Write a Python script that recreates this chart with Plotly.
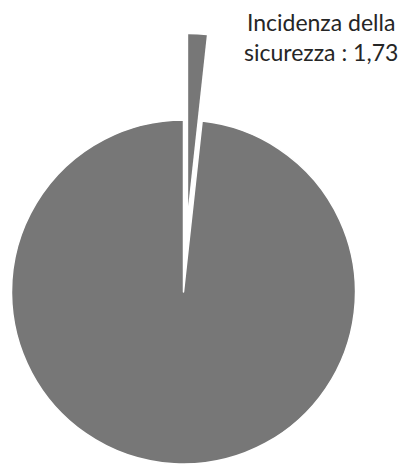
import math
import plotly.graph_objects as go

labels = ["Incidenza della sicurezza", "Altri costi"]
values = [1.73, 98.27]
slice_color = "#777777"
pull_fraction = 0.5

W, H = 406, 464
cx, cy, r = 183.5, 292, 172  # pixel center / radius of main pie

def domain_for(cx_px, cy_px, r_px):
    return dict(
        x=[(cx_px - r_px) / W, (cx_px + r_px) / W],
        y=[max(0, (H - cy_px - r_px) / H), min(1, (H - cy_px + r_px) / H)],
    )

fig = go.Figure()

# main pie with white separators; exploded slice left empty
fig.add_trace(go.Pie(
    labels=labels, values=values, sort=False, direction="clockwise", rotation=0,
    marker=dict(colors=["rgba(0,0,0,0)", slice_color], line=dict(color="white", width=1.5)),
    textinfo="none", hoverinfo="label+value", showlegend=False,
    domain=domain_for(cx, cy, r),
))

# exploded slice: shift along its bisector
mid = values[0] / sum(values) * math.pi  # half the slice angle, radians from 12 o'clock
dx = pull_fraction * r * math.sin(mid)
dy = -pull_fraction * r * math.cos(mid)
fig.add_trace(go.Pie(
    labels=labels, values=values, sort=False, direction="clockwise", rotation=0,
    marker=dict(colors=[slice_color, "rgba(0,0,0,0)"], line=dict(color="rgba(0,0,0,0)", width=0)),
    textinfo="none", hoverinfo="label+value", showlegend=False,
    domain=domain_for(cx + dx, cy + dy, r),
))

label_text = "Incidenza della<br>sicurezza : " + f"{values[0]:.2f}".replace(".", ",")
fig.add_annotation(
    text=label_text, x=321 / W, y=1 - 37 / H, xref="paper", yref="paper",
    xanchor="center", yanchor="middle", showarrow=False, align="center",
    font=dict(family="Lato, Carlito, sans-serif", size=23, color="#262626"),
)

fig.update_layout(
    width=W, height=H, margin=dict(l=0, r=0, t=0, b=0),
    paper_bgcolor="white", plot_bgcolor="white",
)
fig.write_html(
    "out.html",
    config={"displayModeBar": False},
    post_script="document.body.style.margin='0px';document.body.style.overflow='hidden';",
)
